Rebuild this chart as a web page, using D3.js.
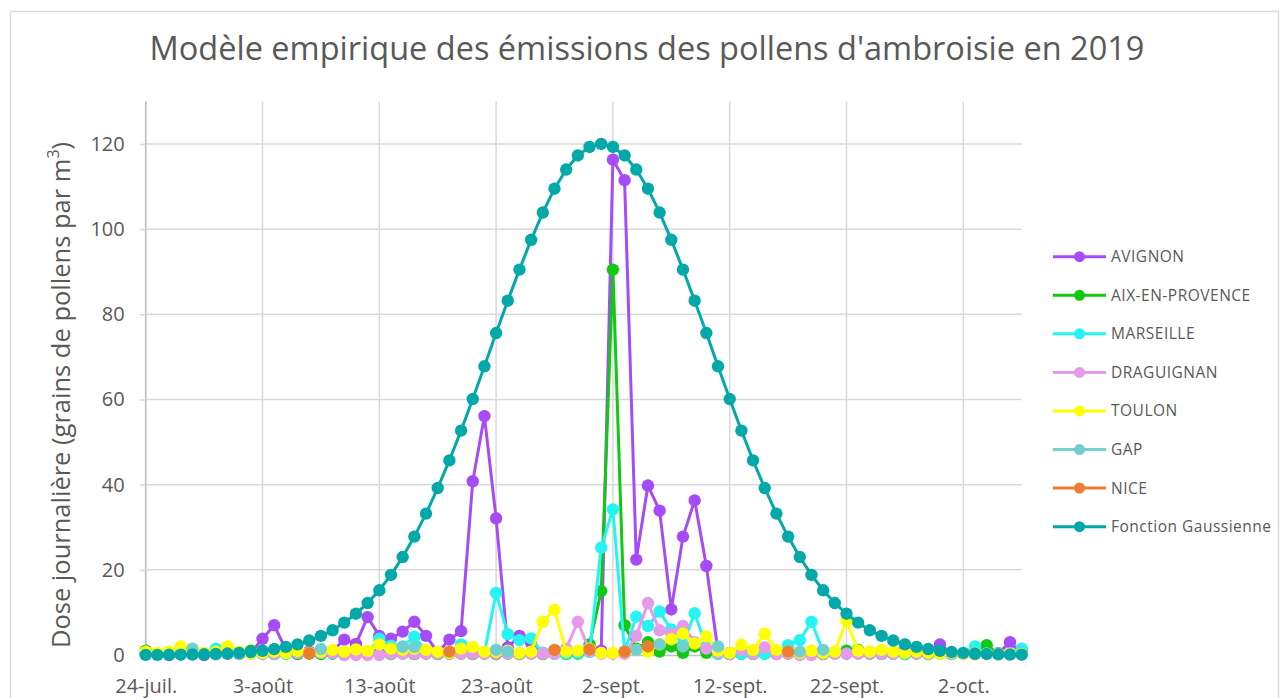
<!DOCTYPE html>
<html>
<head>
<meta charset="utf-8">
<script src="https://cdn.jsdelivr.net/npm/d3@7"></script>
<style>
  body { margin: 0; background: #ffffff; }
  svg text { font-family: "Open Sans", sans-serif; }
</style>
</head>
<body>
<div id="chart"></div>
<script>
// daily values from 24 July 2019 (index 0) to 7 October 2019 (index 75)
var startDate = new Date(2019, 6, 24);
var tickLabels = ["24-juil.", "3-août", "13-août", "23-août", "2-sept.", "12-sept.", "22-sept.", "2-oct."];
var yTicks = [0, 20, 40, 60, 80, 100, 120];

var avignon = [0.3, 0.2, 0, 0.3, 0.2, 0, 0.3, 0.5, 0.3, 0.5,
  3.8, 7.0, 1.2, 0.5, 0.8, 0.5, 1.0, 3.6, 2.6, 8.9,
  4.5, 3.8, 5.5, 7.8, 4.5, 0.6, 3.6, 5.6, 40.8, 56.1,
  32.1, 1.8, 4.5, 2.8, 0.5, 0.3, 0.6, 0.5, 0.8, 1.0,
  116.3, 111.5, 22.4, 39.8, 33.9, 10.7, 27.8, 36.3, 20.9, 0.8,
  0.5, 0.3, 0.6, 0.4, 0.3, 0.5, 0.3, 0.4, 0.3, 0.5,
  0.3, 0.4, 0.3, 0.5, 0.3, 0.6, 0.4, 0.5, 2.5, 0.4,
  0.3, 0.5, 0.3, 0.4, 3.0, 0.3];

var aix = [1.0, 0.3, 0.2, 0.3, 0.2, 0.3, 0.2, 0.3, 0.2, 1.0,
  0.3, 0.2, 0.3, 0.2, 0.3, 0.2, 0.3, 0.2, 0.3, 0.2,
  0.3, 0.2, 0.3, 0.2, 0.3, 0.2, 0.3, 0.3, 0.2, 0.3,
  0.2, 0.3, 0.2, 0.3, 0.2, 0.3, 0.2, 0.3, 2.5, 15.0,
  90.5, 7.0, 1.5, 3.0, 0.8, 2.0, 0.5, 2.0, 0.5, 0.3,
  0.2, 0.3, 0.2, 0.3, 0.2, 0.3, 0.2, 0.3, 0.2, 0.3,
  1.0, 1.2, 0.3, 0.2, 0.3, 0.2, 0.3, 0.2, 0.3, 0.2,
  0.3, 0.2, 2.3, 0.3, 0.2, 1.2];

var marseille = [0.3, 0.3, 0.3, 0.3, 0.3, 0.3, 1.5, 0.3, 0.3, 0.3,
  0.3, 0.3, 0.3, 0.5, 0.5, 0.5, 0.5, 0.5, 0.5, 0.5,
  3.8, 2.2, 2.0, 4.3, 1.0, 0.5, 0.5, 2.5, 0.5, 0.5,
  14.6, 4.9, 3.5, 3.9, 0.5, 0.3, 0.3, 0.5, 0.8, 25.2,
  34.2, 0.8, 9.0, 6.8, 10.2, 6.0, 2.5, 9.8, 2.0, 0.2,
  0.3, 0.3, 0.3, 0.3, 0.3, 2.3, 3.5, 7.8, 0.8, 0.3,
  0.3, 0.3, 0.3, 0.3, 0.3, 0.3, 0.3, 0.3, 0.3, 0.3,
  0.3, 2.0, 0.3, 0.3, 0.3, 1.5];

var draguignan = [0.3, 0.3, 0.3, 0.3, 0.3, 0.3, 0.3, 0.3, 0.3, 0.3,
  0.3, 0.3, 0.5, 0.5, 0.5, 0.5, 0.5, 0, 0, 0,
  0, 0.3, 0.3, 0.3, 0.3, 0.3, 0.3, 0.3, 0.3, 0.3,
  0.3, 0.3, 0.3, 0.3, 0.3, 0.3, 1.5, 7.8, 1.0, 0.3,
  0.3, 0.3, 4.5, 12.2, 5.8, 5.0, 6.8, 3.0, 1.5, 0.5,
  0.3, 1.2, 0.3, 1.8, 0.2, 0.3, 0, 0, 0.3, 0.3,
  0.3, 0.3, 0.3, 0.3, 0.3, 2.5, 0.3, 0.3, 0.3, 0.3,
  0.3, 0.3, 0.3, 0.3, 0.3, 0.3];

var toulon = [0.8, 0.5, 0.8, 2.0, 1.0, 0.5, 0.8, 2.0, 0.8, 0.3,
  0.5, 0.8, 0.5, 1.0, 0.5, 0.8, 1.2, 0.8, 1.3, 1.0,
  2.5, 1.5, 1.2, 1.5, 1.2, 0.8, 0.5, 1.5, 1.9, 0.8,
  0.8, 1.0, 0.5, 0.8, 7.8, 10.6, 0.8, 1.0, 1.5, 0.5,
  0.5, 0.8, 1.2, 0.8, 2.5, 3.7, 5.0, 2.7, 4.4, 1.0,
  0.5, 2.4, 1.2, 5.0, 1.2, 0.8, 0.5, 1.0, 0.5, 0.8,
  8.0, 1.0, 0.8, 1.2, 0.8, 0.5, 0.8, 0.5, 0.3, 0.5,
  0.3, 0.5, 0.3, 0.2, 0.3, 0.2];

var gap = [null, null, null, null, 1.5, null, null, null, null, null,
  null, null, null, null, null, 1.4, null, null, null, null,
  null, null, 1.9, 1.9, null, null, null, null, null, null,
  1.2, 0.8, null, null, null, null, null, null, null, null,
  null, null, 1.2, null, 2.5, null, 2.0, null, null, 2.0,
  null, null, null, null, null, null, 0.8, null, 1.2, null,
  null, null, null, null, null, null, null, null, null, null,
  null, null, null, null, null, null];

var nice = [null, null, null, null, null, null, null, null, null, null,
  null, null, null, null, 0.4, null, null, null, null, null,
  null, null, null, null, null, null, 0.8, null, null, null,
  null, null, null, null, null, 1.2, null, null, 1.3, null,
  null, 0.8, null, 2.0, null, null, null, null, null, null,
  null, null, null, null, null, 0.8, null, null, null, null,
  null, null, null, null, null, null, null, null, null, null,
  null, null, null, null, null, null];

var gaussienne = [0.02, 0.03, 0.05, 0.07, 0.11, 0.16, 0.24, 0.35, 0.5, 0.7,
  1.0, 1.4, 1.9, 2.5, 3.4, 4.5, 5.8, 7.6, 9.7, 12.2,
  15.2, 18.8, 23.0, 27.8, 33.2, 39.2, 45.7, 52.7, 60.1, 67.8,
  75.6, 83.2, 90.5, 97.5, 103.9, 109.5, 114.0, 117.3, 119.3, 120.0,
  119.3, 117.3, 114.0, 109.5, 103.9, 97.5, 90.5, 83.2, 75.6, 67.8,
  60.1, 52.7, 45.7, 39.2, 33.2, 27.8, 23.0, 18.8, 15.2, 12.2,
  9.7, 7.6, 5.8, 4.5, 3.4, 2.5, 1.9, 1.4, 1.0, 0.7,
  0.5, 0.35, 0.24, 0.16, 0.11, 0.07];

var series = [
  {name: "AVIGNON", values: avignon, colour: "#a64cf6"},
  {name: "AIX-EN-PROVENCE", values: aix, colour: "#12c812"},
  {name: "MARSEILLE", values: marseille, colour: "#25f4f4"},
  {name: "DRAGUIGNAN", values: draguignan, colour: "#e69aeb"},
  {name: "TOULON", values: toulon, colour: "#ffff00"},
  {name: "GAP", values: gap, colour: "#71d0cf"},
  {name: "NICE", values: nice, colour: "#ed7d31"},
  {name: "Fonction Gaussienne", values: gaussienne, colour: "#03a9a9"}
];

const textColour = "#595959";
const gridColour = "#d9d9d9";

var width = 1287, height = 698;
var plot = {left: 145.7, right: 1021.7, top: 101.4, bottom: 655};

var x = d3.scaleTime()
    .domain([startDate, d3.timeDay.offset(startDate, 75)])
    .range([plot.left, plot.right]);
var y = d3.scaleLinear().domain([0, 130]).range([plot.bottom, plot.top]);

var tickDates = tickLabels.map(function(d, i) { return d3.timeDay.offset(startDate, i * 10); });

var svg = d3.select("#chart").append("svg")
    .attr("width", width)
    .attr("height", height);

// chart frame (bottom edge falls outside the picture)
svg.append("rect")
    .attr("x", 10.5).attr("y", 11.5)
    .attr("width", 1268).attr("height", 720)
    .attr("fill", "#ffffff")
    .attr("stroke", gridColour)
    .attr("stroke-width", 1.5);

svg.append("text")
    .attr("x", 647)
    .attr("y", 60)
    .attr("text-anchor", "middle")
    .attr("font-size", "32.5px")
    .attr("fill", textColour)
    .text("Modèle empirique des émissions des pollens d'ambroisie en 2019");

// gridlines
svg.append("g").selectAll("line")
    .data(yTicks.filter(function(d) { return d > 0; }))
    .enter().append("line")
    .attr("x1", plot.left).attr("x2", plot.right)
    .attr("y1", function(d) { return y(d); })
    .attr("y2", function(d) { return y(d); })
    .attr("stroke", gridColour)
    .attr("stroke-width", 1.5);

svg.append("g").selectAll("line")
    .data(tickDates)
    .enter().append("line")
    .attr("x1", function(d) { return x(d); })
    .attr("x2", function(d) { return x(d); })
    .attr("y1", plot.top).attr("y2", plot.bottom)
    .attr("stroke", gridColour)
    .attr("stroke-width", 1.5);

var yAxis = d3.axisLeft(y).tickValues(yTicks).tickSize(6).tickSizeOuter(0).tickPadding(15);
var yAxisG = svg.append("g")
    .attr("transform", "translate(" + plot.left + ",0)")
    .attr("color", textColour)
    .call(yAxis);
yAxisG.select(".domain").attr("stroke", "#bfbfbf").attr("stroke-width", 1.5)
    .attr("d", "M0," + plot.top + "V" + plot.bottom);
yAxisG.selectAll(".tick line").attr("stroke", gridColour).attr("stroke-width", 1.5);
yAxisG.selectAll(".tick text").attr("font-size", "20px").attr("font-family", "Open Sans");

var xAxis = d3.axisBottom(x).tickValues(tickDates)
    .tickFormat(function(d, i) { return tickLabels[i]; })
    .tickSize(6).tickSizeOuter(0).tickPadding(18);
var xAxisG = svg.append("g")
    .attr("transform", "translate(0," + plot.bottom + ")")
    .attr("color", textColour)
    .call(xAxis);
xAxisG.select(".domain").attr("stroke", "#bfbfbf").attr("stroke-width", 1.5);
xAxisG.selectAll(".tick line").attr("stroke", gridColour).attr("stroke-width", 1.5);
xAxisG.selectAll(".tick text").attr("font-size", "20px").attr("font-family", "Open Sans");

svg.append("text")
    .attr("transform", "translate(70,395) rotate(-90)")
    .attr("text-anchor", "middle")
    .attr("font-size", "25.5px")
    .attr("fill", textColour)
    .html("Dose journalière (grains de pollens par m<tspan baseline-shift='super' font-size='16px'>3</tspan>)");

// series, drawn in order so the gaussian ends up on top
var line = d3.line()
    .defined(function(d) { return d != null; })
    .x(function(d, i) { return x(d3.timeDay.offset(startDate, i)); })
    .y(function(d) { return y(d); });

series.forEach(function(s) {
  var g = svg.append("g").attr("class", "series");
  g.append("path")
      .datum(s.values)
      .attr("fill", "none")
      .attr("stroke", s.colour)
      .attr("stroke-width", 3)
      .attr("stroke-linejoin", "round")
      .attr("d", line);
  g.selectAll("circle")
      .data(s.values.map(function(v, i) { return {v: v, i: i}; })
        .filter(function(d) { return d.v != null; }))
      .enter().append("circle")
      .attr("cx", function(d) { return x(d3.timeDay.offset(startDate, d.i)); })
      .attr("cy", function(d) { return y(d.v); })
      .attr("r", 6.2)
      .attr("fill", s.colour);
});

// legend
var legend = svg.append("g").attr("transform", "translate(1053,256.7)");
var items = legend.selectAll("g")
    .data(series)
    .enter().append("g")
    .attr("transform", function(d, i) { return "translate(0," + (i * 38.57) + ")"; });
items.append("line")
    .attr("x1", 0).attr("x2", 53)
    .attr("stroke", function(d) { return d.colour; })
    .attr("stroke-width", 3);
items.append("circle")
    .attr("cx", 26.5).attr("r", 5.5)
    .attr("fill", function(d) { return d.colour; });
items.append("text")
    .attr("x", 58)
    .attr("dy", "0.35em")
    .attr("font-size", "15.5px")
    .attr("letter-spacing", "0.5px")
    .attr("fill", textColour)
    .text(function(d) { return d.name; });
</script>
</body>
</html>
